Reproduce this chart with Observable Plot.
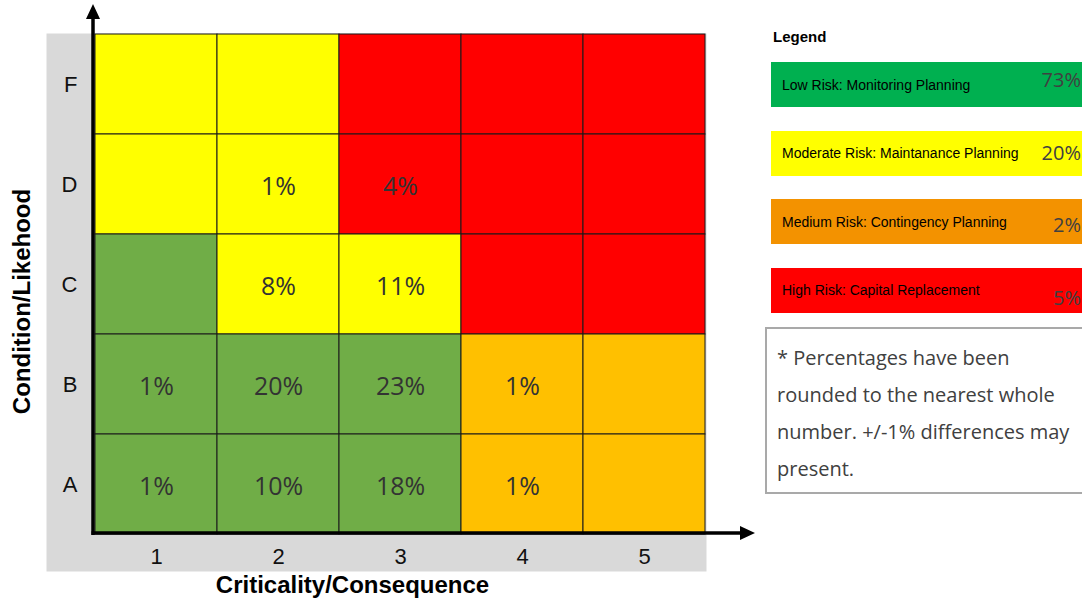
<!DOCTYPE html>
<html><head><meta charset="utf-8">
<script src="https://cdn.jsdelivr.net/npm/d3@7"></script>
<script src="https://cdn.jsdelivr.net/npm/@observablehq/plot@0.6"></script>
<style>
html,body{margin:0;padding:0;background:#fff;overflow:hidden;}
#wrap{position:relative;width:1082px;height:600px;overflow:hidden;}
#chart{position:absolute;left:0;top:0;}
#legend{position:absolute;left:0;top:0;width:1082px;height:600px;pointer-events:none;}
.lg-title{position:absolute;left:773px;top:28px;font:bold 15px 'Liberation Sans',Arial,sans-serif;color:#000;}
.lg-box{position:absolute;left:771px;width:311px;height:45px;display:flex;align-items:center;box-sizing:border-box;padding-left:11px;font:14px 'Liberation Sans',Arial,sans-serif;color:#000;overflow:visible;}
.lg-pct{position:absolute;right:1px;font:20px 'Open Sans',sans-serif;color:#404040;line-height:20px;}
.note{position:absolute;left:765px;top:327px;width:330px;height:167px;box-sizing:border-box;border:2px solid #a9a9a9;padding:10px 0 0 10px;font:20px 'Open Sans',sans-serif;line-height:37px;color:#404040;white-space:nowrap;}
</style></head>
<body><div id="wrap"><div id="chart"></div><div id="legend"></div></div>
<script>
// ---- data ----
const columns = [1, 2, 3, 4, 5];
const rows = ["F", "D", "C", "B", "A"]; // top to bottom
const riskLevels = ["Low", "Moderate", "Medium", "High"];
const cellColors = ["#70AD47", "#FFFF00", "#FFC000", "#FF0000"];
const riskGrid = [
  ["Moderate", "Moderate", "High", "High", "High"],     // F
  ["Moderate", "Moderate", "High", "High", "High"],     // D
  ["Low", "Moderate", "Moderate", "High", "High"],      // C
  ["Low", "Low", "Low", "Medium", "Medium"],            // B
  ["Low", "Low", "Low", "Medium", "Medium"]             // A
];
const valueGrid = [
  [null, null, null, null, null],  // F
  [null, 1, 4, null, null],        // D
  [null, 8, 11, null, null],       // C
  [1, 20, 23, 1, null],            // B
  [1, 10, 18, 1, null]             // A
];
const xTitle = "Criticality/Consequence";
const yTitle = "Condition/Likehood";
const legendTitle = "Legend";
const legendLabels = ["Low Risk: Monitoring Planning", "Moderate Risk: Maintanance Planning", "Medium Risk: Contingency Planning", "High Risk: Capital Replacement"];
const legendPercents = [73, 20, 2, 5];
const legendColors = ["#00B050", "#FFFF00", "#F39200", "#FF0000"];
const noteLines = ["* Percentages have been", "rounded to the nearest whole", "number. +/-1% differences may", "present."];

// ---- chart ----
const cells = [];
rows.forEach((r, i) => columns.forEach((c, j) => cells.push({row: r, col: c, risk: riskGrid[i][j], value: valueGrid[i][j]})));

const plot = Plot.plot({
  width: 1082, height: 600,
  marginTop: 34, marginBottom: 66, marginLeft: 94, marginRight: 376,
  style: {background: "transparent", fontFamily: "'Liberation Sans', Arial, sans-serif", color: "#111", overflow: "visible"},
  x: {type: "band", domain: columns, padding: 0},
  y: {type: "band", domain: rows, padding: 0},
  color: {domain: riskLevels, range: cellColors},
  marks: [
    Plot.frame({fill: "#d9d9d9", stroke: null, insetLeft: -48, insetBottom: -37, insetTop: -1}),
    Plot.cell(cells, {x: "col", y: "row", fill: "risk", stroke: "#1a1a1a", strokeWidth: 1}),
    Plot.text(cells.filter(d => d.value != null), {x: "col", y: "row", text: d => d.value + "%", fontSize: 25, fill: "#333", fontFamily: "'Open Sans', sans-serif", dy: 2}),
    Plot.axisX({tickSize: 0, tickPadding: 14, fontSize: 22, label: null}),
    Plot.axisY({tickSize: 0, tickPadding: 17, fontSize: 22, label: null}),
    Plot.text([xTitle], {frameAnchor: "bottom", dx: -48, dy: 58, fontSize: 24, fontWeight: "bold", fill: "#000"}),
    Plot.text([yTitle], {frameAnchor: "left", textAnchor: "middle", lineAnchor: "middle", rotate: -90, dx: -72, dy: 17, fontSize: 24, fontWeight: "bold", fill: "#000"})
  ]
});
document.getElementById("chart").appendChild(plot);

// axis arrows derived from the scales' ranges
const xr = plot.scale("x").range, yr = plot.scale("y").range;
const ax = Math.min(...xr) - 1, ay = Math.max(...yr) - 1;
const svg = d3.select(plot);
const g = svg.append("g");
g.append("line").attr("x1", ax).attr("x2", ax).attr("y1", ay + 2).attr("y2", 16).attr("stroke", "#000").attr("stroke-width", 3.5);
g.append("path").attr("d", `M${ax},4 L${ax - 7},19 L${ax + 7},19 Z`).attr("fill", "#000");
g.append("line").attr("x1", ax - 1.5).attr("x2", 743).attr("y1", ay).attr("y2", ay).attr("stroke", "#000").attr("stroke-width", 3.5);
g.append("path").attr("d", `M755,${ay} L740,${ay - 7} L740,${ay + 7} Z`).attr("fill", "#000");

// ---- legend ----
const lg = d3.select("#legend");
lg.append("div").attr("class", "lg-title").text(legendTitle);
const pctShift = [-4, 0, 4, 8];
legendLabels.forEach((lab, i) => {
  const box = lg.append("div").attr("class", "lg-box")
    .style("top", (62 + i * 68.5) + "px").style("background", legendColors[i]);
  box.append("span").text(lab);
  box.append("span").attr("class", "lg-pct").style("top", (12 + pctShift[i]) + "px").text(legendPercents[i] + "%");
});
const note = lg.append("div").attr("class", "note");
noteLines.forEach((t, i) => { if (i) note.append("br"); note.append("span").text(t); });
</script>
</body></html>
